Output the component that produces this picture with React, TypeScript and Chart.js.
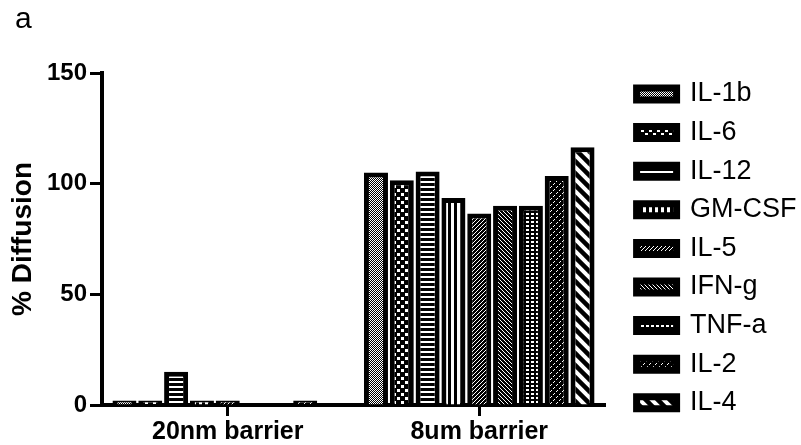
import React, { useEffect, useRef } from "react";
import { Chart, registerables } from "chart.js";

Chart.register(...registerables);

// ---- data ----
const categories = ["20nm barrier", "8um barrier"];
const seriesLabels = ["IL-1b", "IL-6", "IL-12", "GM-CSF", "IL-5", "IFN-g", "TNF-a", "IL-2", "IL-4"];
const il1b = [2, 105];
const il6 = [2, 101.5];
const il12 = [15, 105.5];
const gmcsf = [2, 93.5];
const il5 = [2, 86.5];
const ifng = [0, 90];
const tnfa = [0, 90];
const il2 = [2, 103.5];
const il4 = [0, 116.5];
const seriesValues = [il1b, il6, il12, gmcsf, il5, ifng, tnfa, il2, il4];
const yTicks = [0, 50, 100, 150];

const FONT = "'Liberation Sans', Arial, Helvetica, sans-serif";

function makePattern(w: number, h: number, draw: (c: CanvasRenderingContext2D) => void): CanvasPattern | string {
  const cv = document.createElement("canvas");
  cv.width = w;
  cv.height = h;
  const c = cv.getContext("2d");
  if (!c) return "#000";
  c.fillStyle = "#000";
  c.fillRect(0, 0, w, h);
  c.fillStyle = "#fff";
  c.strokeStyle = "#fff";
  draw(c);
  const p = c.createPattern(cv, "repeat");
  return p || "#000";
}

function buildPatterns() {
  return [
    // IL-1b fine checker
    makePattern(2, 2, (c) => {
      c.fillRect(0, 0, 1, 1);
      c.fillRect(1, 1, 1, 1);
    }),
    // IL-6 staggered squares
    makePattern(8, 8, (c) => {
      c.fillRect(1, 1, 3, 3);
      c.fillRect(5, 5, 3, 3);
    }),
    // IL-12 horizontal lines
    makePattern(4, 5, (c) => {
      c.fillRect(0, 1, 4, 2);
    }),
    // GM-CSF vertical lines
    makePattern(6, 4, (c) => {
      c.fillRect(1, 0, 3, 4);
    }),
    // IL-5 fine "/"
    makePattern(4, 4, (c) => {
      c.fillRect(3, 0, 1, 1);
      c.fillRect(2, 1, 1, 1);
      c.fillRect(1, 2, 1, 1);
      c.fillRect(0, 3, 1, 1);
    }),
    // IFN-g fine "\"
    makePattern(4, 4, (c) => {
      c.fillRect(0, 0, 1, 1);
      c.fillRect(1, 1, 1, 1);
      c.fillRect(2, 2, 1, 1);
      c.fillRect(3, 3, 1, 1);
    }),
    // TNF-a grid of squares
    makePattern(5, 4, (c) => {
      c.fillRect(1, 1, 3, 2);
    }),
    // IL-2 dashed "/"
    makePattern(6, 6, (c) => {
      c.fillRect(5, 0, 1, 1);
      c.fillRect(4, 1, 1, 1);
      c.fillRect(2, 3, 1, 1);
      c.fillRect(1, 4, 1, 1);
    }),
    // IL-4 thick "\"
    makePattern(12, 12, (c) => {
      c.lineWidth = 4;
      for (const off of [-12, 0, 12]) {
        c.beginPath();
        c.moveTo(off - 2, -2);
        c.lineTo(off + 14, 14);
        c.stroke();
      }
    }),
  ];
}

export default function App() {
  const ref = useRef<HTMLCanvasElement | null>(null);

  useEffect(() => {
    if (!ref.current) return;
    const patterns = buildPatterns();
    const datasets = seriesLabels.map((label, i) => ({
      label,
      data: seriesValues[i],
      backgroundColor: patterns[i],
      borderColor: "#000",
      borderWidth: 5,
      barPercentage: 0.93,
      categoryPercentage: 0.924,
    }));

    const chart = new Chart(ref.current, {
      type: "bar",
      data: { labels: categories, datasets },
      options: {
        responsive: false,
        animation: false,
        events: [],
        layout: { padding: { left: 15, top: 0, right: 0, bottom: 0 } },
        plugins: {
          tooltip: { enabled: false },
          title: {
            display: true,
            text: "a",
            align: "start",
            color: "#000",
            font: { family: FONT, size: 30, weight: "normal" },
            padding: { top: 2, bottom: 35 },
          },
          legend: {
            display: true,
            position: "right",
            align: "start",
            maxWidth: 176,
            title: {
              display: true,
              text: "",
              font: { size: 12 },
              padding: { top: 54.5, bottom: 0 },
            },
            labels: {
              color: "#000",
              font: { family: FONT, size: 27 },
              boxWidth: 40,
              boxHeight: 12,
              padding: 11.6,
              generateLabels: (ch: any) => {
                const items = (Chart as any).defaults.plugins.legend.labels.generateLabels(ch);
                return items.map((it: any) => ({ ...it, lineWidth: 7 }));
              },
            },
          },
        },
        scales: {
          x: {
            type: "category",
            position: "bottom",
            afterFit: (s: any) => {
              s.height = 40;
            },
            grid: {
              display: true,
              offset: false,
              drawOnChartArea: false,
              drawTicks: true,
              tickLength: 11,
              tickWidth: 3,
              tickColor: "#000",
            },
            border: { display: true, color: "#000", width: 4 },
            ticks: {
              color: "#000",
              padding: 1,
              font: { family: FONT, size: 25, weight: "bold" },
            },
          },
          y: {
            type: "linear",
            position: "left",
            min: yTicks[0],
            max: yTicks[yTicks.length - 1],
            afterFit: (s: any) => {
              s.width = 87;
            },
            afterBuildTicks: (s: any) => {
              s.ticks = yTicks.map((v) => ({ value: v }));
            },
            grid: {
              display: true,
              drawOnChartArea: false,
              drawTicks: true,
              tickLength: 12,
              tickWidth: 3,
              tickColor: "#000",
            },
            border: { display: true, color: "#000", width: 4 },
            ticks: {
              color: "#000",
              padding: 3,
              font: { family: FONT, size: 24, weight: "bold" },
            },
            title: {
              display: true,
              text: "% Diffusion",
              color: "#000",
              font: { family: FONT, size: 28, weight: "bold", lineHeight: 0.6 },
              padding: { top: 0, bottom: 0 },
            },
          },
          yGap: {
            type: "linear",
            position: "right",
            display: true,
            afterFit: (s: any) => {
              s.width = 20;
            },
            grid: { display: false, drawTicks: false },
            border: { display: false },
            ticks: { display: false },
          },
        },
      },
    } as any);

    return () => chart.destroy();
  }, []);

  return (
    <div style={{ position: "fixed", left: 0, top: 0, width: 801, height: 445, background: "#fff" }}>
      <canvas ref={ref} width={801} height={445} style={{ display: "block" }} />
    </div>
  );
}
